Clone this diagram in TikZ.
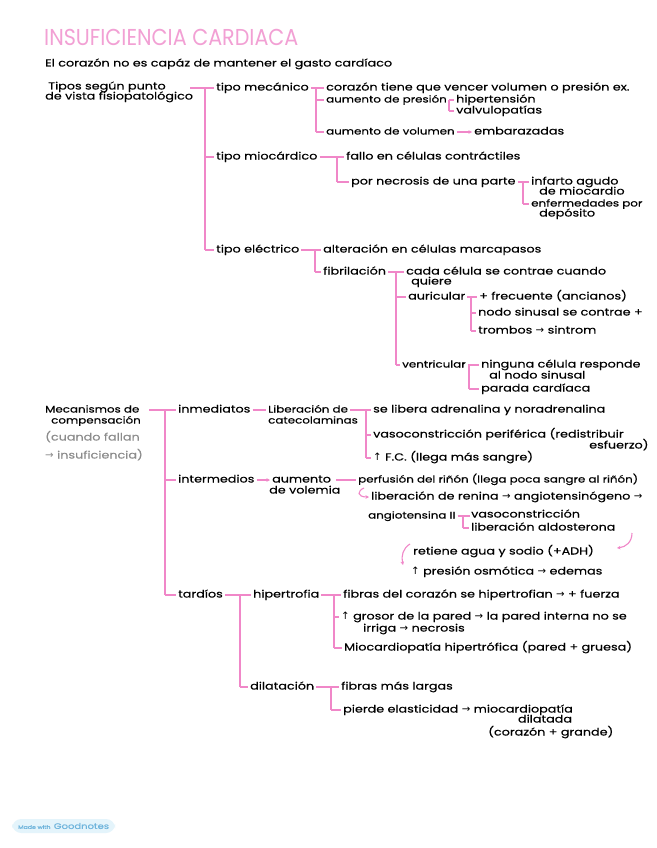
\documentclass[tikz,border=0pt]{standalone}
\usepackage{fontspec}
\setmainfont{Poppins}[FakeStretch=1.25,FakeBold=0.4]
\newfontfamily\titlefont{Poppins}[FakeStretch=0.9]
\newfontfamily\symfont{DejaVu Sans}
\usetikzlibrary{arrows.meta}
\definecolor{pk}{RGB}{240,135,200}
\definecolor{tpk}{RGB}{242,160,212}
\definecolor{gtx}{RGB}{140,140,140}
\definecolor{gn}{RGB}{110,180,220}
\definecolor{gnbg}{RGB}{228,244,251}
\newcommand\myra{{\symfont\char"2192}}
\newcommand\myup{{\symfont\char"2191}}
\newcommand\myvert[3]{\draw[br] (#2.west -| #1) -- (#3.west -| #1);}
\newcommand\mytick[2]{\draw[br] (#2.west -| #1) -- ([xshift=-1pt]#2.west);}
\newcommand\mylink[2]{\draw[br] ([xshift=1pt]#1.east) -- ([xshift=-1pt]#2.west);}
\begin{document}
\begin{tikzpicture}[x=1pt,y=-1pt,
  t/.style={anchor=west,inner sep=1pt,font=\fontsize{10.2}{11}\selectfont,text height=7pt,text depth=2pt},
  ts/.style={t,font=\fontsize{9.5}{11}\selectfont},
  g/.style={t,text=gtx},
  br/.style={draw=pk,line width=1.1pt},
  pa/.style={draw=pk,line width=1.1pt,-{Stealth[length=3.5pt,width=3.5pt]}}]
\useasboundingbox (0,0) rectangle (656,848);
\fill[white] (0,0) rectangle (656,848);

% title
\node[anchor=west,inner sep=0pt,text=tpk,font=\titlefont\fontsize{23}{25}\selectfont] (title) at (44,37) {INSUFICIENCIA CARDIACA};
\node[t] (sub) at (44,64) {El corazón no es capáz de mantener el gasto cardíaco};

% ---- Tipos
\node[t] (tipos1) at (47,87) {Tipos según punto};
\node[t] (tipos2) at (44,97) {de vista fisiopatológico};
\coordinate (tp) at (190,88);
\node[t] (mec) at (215,88) {tipo mecánico};
\node[t] (mio) at (215,157) {tipo miocárdico};
\node[t] (ele) at (215,250) {tipo eléctrico};
\coordinate (x1) at (205,0);
\draw[br] (tp) -- ([xshift=-1pt]mec.west);
\myvert{x1}{mec}{ele}
\mytick{x1}{mio}
\mytick{x1}{ele}

% mecánico
\node[t] (m1) at (325,88) {corazón tiene que vencer volumen o presión ex.};
\node[ts] (m2) at (325,100) {aumento de presión};
\node[t] (m21) at (455,100) {hipertensión};
\node[t] (m22) at (455,111) {valvulopatías};
\node[ts] (m3) at (325,132) {aumento de volumen};
\node[t] (m31) at (473,132) {embarazadas};
\coordinate (x2) at (316,0);
\mylink{mec}{m1}
\myvert{x2}{m1}{m3}
\mytick{x2}{m2}
\mytick{x2}{m3}
\coordinate (x3) at (449,0);
\mylink{m2}{m21}
\myvert{x3}{m21}{m22}
\mytick{x3}{m22}
\draw[pa] ([xshift=1pt]m3.east) -- ([xshift=-1pt]m31.west);

% miocárdico
\node[t] (c1) at (345,157) {fallo en células contráctiles};
\node[t] (c2) at (350,182) {por necrosis de una parte};
\node[t] (c21) at (530,182) {infarto agudo};
\node[t] (c21b) at (538,192) {de miocardio};
\node[ts] (c22) at (530,204) {enfermedades por};
\node[t] (c22b) at (538,214) {depósito};
\coordinate (x4) at (337,0);
\mylink{mio}{c1}
\myvert{x4}{c1}{c2}
\mytick{x4}{c2}
\coordinate (x5) at (523,0);
\mylink{c2}{c21}
\myvert{x5}{c21}{c22}
\mytick{x5}{c22}

% eléctrico
\node[t] (e1) at (322,250) {alteración en células marcapasos};
\node[t] (e2) at (322,272) {fibrilación};
\coordinate (x6) at (315,0);
\mylink{ele}{e1}
\myvert{x6}{e1}{e2}
\mytick{x6}{e2}
\node[t] (f1) at (405,272) {cada célula se contrae cuando};
\node[t] (f1b) at (410,282) {quiere};
\node[t] (f2) at (407,297) {auricular};
\node[ts] (f3) at (401,365) {ventricular};
\coordinate (x7) at (396,0);
\mylink{e2}{f1}
\myvert{x7}{f1}{f3}
\mytick{x7}{f2}
\mytick{x7}{f3}
\node[t] (a1) at (478,297) {+ frecuente (ancianos)};
\node[t] (a2) at (477,313) {nodo sinusal se contrae +};
\node[t] (a3) at (477,331) {trombos \myra\ sintrom};
\coordinate (x8) at (471,0);
\mylink{f2}{a1}
\myvert{x8}{a1}{a3}
\mytick{x8}{a2}
\mytick{x8}{a3}
\node[t] (v1) at (480,365) {ninguna célula responde};
\node[t] (v1b) at (488,376) {al nodo sinusal};
\node[t] (v2) at (480,389) {parada cardíaca};
\coordinate (x9) at (469,0);
\mylink{f3}{v1}
\myvert{x9}{v1}{v2}
\mytick{x9}{v2}

% ---- Mecanismos
\node[ts] (mc1) at (44,410) {Mecanismos de};
\node[ts] (mc2) at (50,421) {compensación};
\node[g] (mc3) at (44,438) {(cuando fallan};
\node[g] (mc4) at (44,456) {\myra\ insuficiencia)};
\coordinate (mp) at (149,410);
\node[t] (inm) at (177,410) {inmediatos};
\node[t] (int) at (177,480) {intermedios};
\node[t] (tar) at (177,595) {tardíos};
\coordinate (x10) at (165,0);
\draw[br] (mp) -- ([xshift=-1pt]inm.west);
\myvert{x10}{inm}{tar}
\mytick{x10}{int}
\mytick{x10}{tar}

% inmediatos
\node[ts] (cat1) at (267,410) {Liberación de};
\node[ts] (cat2) at (267,421) {catecolaminas};
\mylink{inm}{cat1}
\node[t] (i1) at (372,410) {se libera adrenalina y noradrenalina};
\node[t] (i2) at (372,435) {vasoconstricción periférica (redistribuir};
\node[t] (i2b) at (588,446) {esfuerzo)};
\node[t] (i3) at (372,458) {\myup\ F.C. (llega más sangre)};
\coordinate (x12) at (366,0);
\mylink{cat1}{i1}
\myvert{x12}{i1}{i3}
\mytick{x12}{i2}
\mytick{x12}{i3}

% intermedios
\node[t] (vol1) at (271,480) {aumento};
\node[t] (vol2) at (268,491) {de volemia};
\draw[pa] ([xshift=1pt]int.east) -- ([xshift=-1pt]vol1.west);
\node[ts] (p1) at (357,480) {perfusión del riñón (llega poca sangre al riñón)};
\draw[br] ([xshift=4pt]vol1.east) -- ([xshift=-1pt]p1.west);
\node[t] (p2) at (370,497) {liberación de renina \myra\ angiotensinógeno \myra};
\coordinate (ca1) at (364,488);
\draw[pa] (ca1) .. controls (357,491) and (357,497) .. ([xshift=-1pt]p2.west);
\node[ts] (p3) at (367,516) {angiotensina II};
\node[t] (p31) at (470,515) {vasoconstricción};
\node[t] (p32) at (470,528) {liberación aldosterona};
\coordinate (x14) at (463,0);
\draw[br] ([xshift=1pt]p3.east) -- (p3.east -| p31.west);
\myvert{x14}{p31}{p32}
\mytick{x14}{p32}
\coordinate (ca2) at (632,533);
\coordinate (ca3) at (617,548);
\draw[pa] (ca2) .. controls (632,542) and (626,547) .. (ca3);
\node[t] (p4) at (412,552) {retiene agua y sodio (+ADH)};
\coordinate (ca4) at (410,544);
\coordinate (ca5) at (403,565);
\draw[pa] (ca4) .. controls (403,548) and (401,556) .. (ca5);
\node[t] (p5) at (410,572) {\myup\ presión osmótica \myra\ edemas};

% tardíos
\node[t] (hip) at (252,595) {hipertrofia};
\node[t] (dil) at (249,687) {dilatación};
\coordinate (x15) at (240,0);
\mylink{tar}{hip}
\myvert{x15}{hip}{dil}
\mytick{x15}{dil}
\node[t] (h1) at (342,595) {fibras del corazón se hipertrofian \myra\ + fuerza};
\node[t] (h2) at (340,617) {\myup\ grosor de la pared \myra\ la pared interna no se};
\node[t] (h2b) at (362,629) {irriga \myra\ necrosis};
\node[t] (h3) at (343,648) {Miocardiopatía hipertrófica (pared + gruesa)};
\coordinate (x16) at (334,0);
\mylink{hip}{h1}
\myvert{x16}{h1}{h3}
\mytick{x16}{h2}
\mytick{x16}{h3}
\node[t] (d1) at (340,687) {fibras más largas};
\node[t] (d2) at (342,710) {pierde elasticidad \myra\ miocardiopatía};
\node[t,anchor=center] (d2b) at (545,720) {dilatada};
\node[t] (d2c) at (487,733) {(corazón + grande)};
\coordinate (x17) at (331,0);
\mylink{dil}{d1}
\myvert{x17}{d1}{d2}
\mytick{x17}{d2}

% footer
\node[fill=gnbg,rounded corners=9pt,inner xsep=6pt,inner ysep=4pt,text=gn,anchor=west] (gnote) at (12,826)
  {{\fontsize{5}{6}\selectfont Made with}\ {\fontsize{8}{9}\selectfont Goodnotes}};
\end{tikzpicture}
\end{document}
